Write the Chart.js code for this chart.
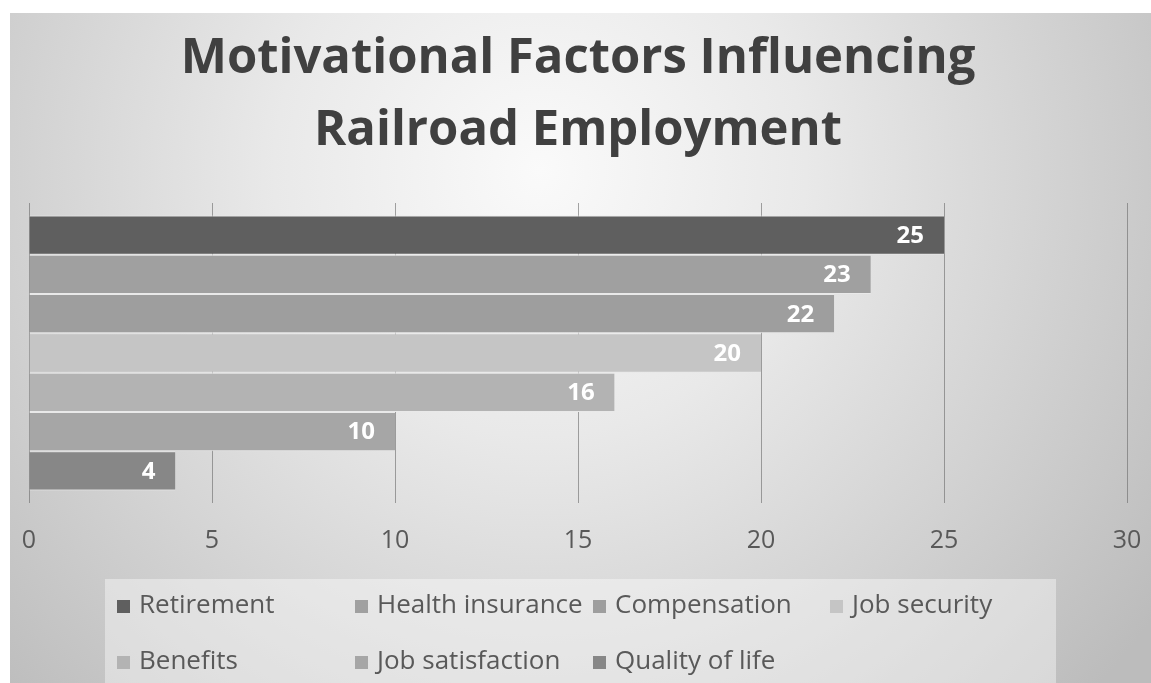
<!DOCTYPE html>
<html>
<head>
<meta charset="utf-8">
<title>Motivational Factors Influencing Railroad Employment</title>
<script src="https://cdn.jsdelivr.net/npm/chart.js@4"></script>
<style>
  html, body { margin: 0; padding: 0; background: #fff; }
  #wrap { width: 1151px; height: 683px; }
</style>
</head>
<body>
<div id="wrap"><canvas id="myChart" width="1151" height="683"></canvas></div>
<script>
const factors = ['Retirement', 'Health insurance', 'Compensation', 'Job security', 'Benefits', 'Job satisfaction', 'Quality of life'];
const responses = [25, 23, 22, 20, 16, 10, 4];
const barColors = ['#5f5f5f', '#a0a0a0', '#9e9e9e', '#c5c5c5', '#b3b3b3', '#a6a6a6', '#878787'];
const xTicks = [0, 5, 10, 15, 20, 25, 30];

const FONT = '"Open Sans", "Noto Sans", sans-serif';
const TEXT_GREY = '#595959';

// grey radial backdrop behind everything
const backdrop = {
  id: 'backdrop',
  beforeDraw(chart) {
    const c = chart.ctx;
    const w = chart.width, h = chart.height;
    c.save();
    c.fillStyle = '#ffffff';
    c.fillRect(0, 0, w, h);
    const g = c.createRadialGradient(540, 170, 0, 540, 170, 760);
    g.addColorStop(0, '#fafafa');
    g.addColorStop(0.35, '#e9e9e9');
    g.addColorStop(1, '#bcbcbc');
    c.fillStyle = g;
    c.fillRect(10, 13, w - 10, h - 13);
    c.restore();
  }
};

// white value labels tucked inside the end of each bar
const barValues = {
  id: 'barValues',
  afterDatasetsDraw(chart) {
    const c = chart.ctx;
    c.save();
    c.font = 'bold 24px ' + FONT;
    c.fillStyle = '#ffffff';
    c.textAlign = 'right';
    c.textBaseline = 'middle';
    chart.data.datasets.forEach((ds, i) => {
      const bar = chart.getDatasetMeta(i).data[0];
      c.fillText(String(ds.data[0]), bar.x - 20, bar.y + 1);
    });
    c.restore();
  }
};

// boxed two-row legend under the axis, items in fixed columns
const gridLegend = {
  id: 'gridLegend',
  afterDraw(chart) {
    const c = chart.ctx;
    const cols = [117, 355, 593, 830];
    const rows = [606, 662];
    c.save();
    c.fillStyle = 'rgba(255,255,255,0.4)';
    c.fillRect(105, 579, 951, 104);
    c.font = '26px ' + FONT;
    c.textBaseline = 'middle';
    c.textAlign = 'left';
    chart.data.datasets.forEach((ds, i) => {
      const x = cols[i % 4];
      const y = rows[Math.floor(i / 4)];
      c.fillStyle = ds.backgroundColor;
      c.fillRect(x, y - 6, 13, 13);
      c.fillStyle = TEXT_GREY;
      c.fillText(ds.label, x + 22, y);
    });
    c.restore();
  }
};

new Chart(document.getElementById('myChart'), {
  type: 'bar',
  data: {
    labels: [''],
    datasets: factors.map((name, i) => ({
      label: name,
      data: [responses[i]],
      backgroundColor: barColors[i],
      borderColor: '#e9e9e9',
      borderWidth: { top: 1, bottom: 1, left: 0, right: 0 },
      borderSkipped: false,
      barPercentage: 1,
      categoryPercentage: 0.917
    }))
  },
  options: {
    indexAxis: 'y',
    responsive: false,
    animation: false,
    layout: { padding: { left: 29, right: 24, top: 0, bottom: 130 } },
    plugins: {
      legend: { display: false },
      tooltip: { enabled: false },
      title: {
        display: true,
        text: ['Motivational Factors Influencing', 'Railroad Employment'],
        color: '#404040',
        font: { family: FONT, size: 49, weight: 'bold', lineHeight: 72 / 49 },
        padding: { top: 23, bottom: 36 }
      }
    },
    scales: {
      x: {
        min: 0,
        max: 30,
        afterBuildTicks(axis) { axis.ticks = xTicks.map(v => ({ value: v })); },
        // fixed axis band so the plot edges stay put
        afterFit(axis) {
          axis.paddingLeft = 0;
          axis.paddingRight = 0;
          axis.height = 50;
        },
        grid: { color: 'rgba(105,105,105,0.6)', lineWidth: 1, drawTicks: false },
        border: { display: false },
        ticks: { color: TEXT_GREY, padding: 23, font: { family: FONT, size: 25 }, maxRotation: 0 }
      },
      y: {
        display: false
      }
    }
  },
  plugins: [backdrop, barValues, gridLegend]
});
</script>
</body>
</html>
